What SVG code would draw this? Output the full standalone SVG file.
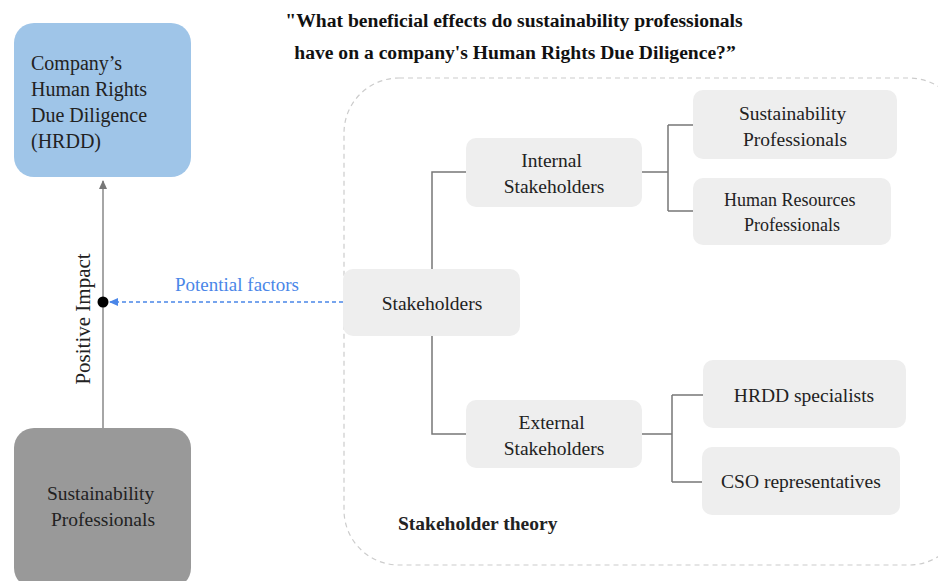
<svg xmlns="http://www.w3.org/2000/svg" width="938" height="581" viewBox="0 0 938 581">
  <style>
    .t { font-family: "Liberation Serif", "Times New Roman", serif; fill: #222; }
    .node { fill: #eeeeee; }
    .tree { fill: none; stroke: #777777; stroke-width: 1.5; }
    .title { font-family: "Liberation Serif", "Times New Roman", serif; font-weight: bold; font-size: 19.6px; fill: #111; }
  </style>
  <defs>
    <marker id="arrGray" markerWidth="10" markerHeight="10" refX="8" refY="5" orient="auto" markerUnits="userSpaceOnUse">
      <path d="M0,1 L9,5 L0,9 z" fill="#777777"/>
    </marker>
    <marker id="arrBlue" markerWidth="10" markerHeight="10" refX="8" refY="5" orient="auto" markerUnits="userSpaceOnUse">
      <path d="M0,1 L9,5 L0,9 z" fill="#4a86e8"/>
    </marker>
  </defs>
  <rect width="938" height="581" fill="#ffffff"/>

  <!-- question -->
  <g id="title">
    <text class="title" x="514" y="27" text-anchor="middle">"What beneficial effects do sustainability professionals</text>
    <text class="title" x="515" y="59" text-anchor="middle">have on a company's Human Rights Due Diligence?”</text>
  </g>

  <!-- stakeholder theory frame -->
  <g id="frame">
    <rect x="344" y="78" width="620" height="487" rx="55" fill="none" stroke="#cccccc" stroke-width="1.2" stroke-dasharray="5 4"/>
    <text class="t" x="398" y="530" font-size="19.5" font-weight="bold" fill="#111">Stakeholder theory</text>
  </g>

  <!-- connectors -->
  <g id="connectors">
    <path class="tree" d="M432,269 V172 H466"/>
    <path class="tree" d="M432,336 V434 H466"/>
    <path class="tree" d="M642,172 H668 M668,125 V211 M668,125 H693 M668,211 H693"/>
    <path class="tree" d="M642,434 H672 M672,395 V482 M672,395 H703 M672,482 H702"/>
    <line x1="103" y1="428" x2="103" y2="181" stroke="#888888" stroke-width="1.5" marker-end="url(#arrGray)"/>
    <line x1="343" y1="302" x2="110" y2="302" stroke="#4a86e8" stroke-width="1.5" stroke-dasharray="4 3" marker-end="url(#arrBlue)"/>
    <circle cx="103" cy="302" r="5.5" fill="#000000"/>
    <text x="237" y="291" text-anchor="middle" font-family="Liberation Serif, serif" font-size="19" fill="#4a86e8">Potential factors</text>
    <text class="t" transform="translate(90,319) rotate(-90)" text-anchor="middle" font-size="21">Positive Impact</text>
  </g>

  <g id="hrdd">
    <rect x="14" y="23" width="177" height="154" rx="20" fill="#9fc5e8"/>
    <text class="t" font-size="20" x="31">
      <tspan x="31" y="70">Company’s</tspan>
      <tspan x="31" y="96">Human Rights</tspan>
      <tspan x="31" y="122">Due Diligence</tspan>
      <tspan x="31" y="148">(HRDD)</tspan>
    </text>
  </g>

  <g id="sust-left">
    <rect x="14" y="428" width="177" height="160" rx="20" fill="#999999"/>
    <text class="t" font-size="19.5" text-anchor="middle">
      <tspan x="103" y="500">Sustainability</tspan>
      <tspan x="103" y="526">Professionals</tspan>
    </text>
  </g>

  <g id="stakeholders">
    <rect class="node" x="343" y="269" width="177" height="67" rx="10"/>
    <text class="t" font-size="19.5" x="432" y="310" text-anchor="middle">Stakeholders</text>
  </g>

  <g id="internal">
    <rect class="node" x="466" y="138" width="176" height="69" rx="10"/>
    <text class="t" font-size="19.5" text-anchor="middle">
      <tspan x="554" y="167">Internal</tspan>
      <tspan x="554" y="193">Stakeholders</tspan>
    </text>
  </g>

  <g id="external">
    <rect class="node" x="466" y="400" width="176" height="68" rx="10"/>
    <text class="t" font-size="19.5" text-anchor="middle">
      <tspan x="554" y="429">External</tspan>
      <tspan x="554" y="455">Stakeholders</tspan>
    </text>
  </g>

  <g id="sust-prof">
    <rect class="node" x="693" y="90" width="204" height="69" rx="10"/>
    <text class="t" font-size="19.5" text-anchor="middle">
      <tspan x="795" y="120">Sustainability</tspan>
      <tspan x="795" y="146">Professionals</tspan>
    </text>
  </g>

  <g id="hr-prof">
    <rect class="node" x="693" y="178" width="198" height="67" rx="10"/>
    <text class="t" font-size="18" text-anchor="middle">
      <tspan x="792" y="206">Human Resources</tspan>
      <tspan x="792" y="231">Professionals</tspan>
    </text>
  </g>

  <g id="hrdd-spec">
    <rect class="node" x="703" y="360" width="203" height="68" rx="10"/>
    <text class="t" font-size="19.5" x="804" y="402" text-anchor="middle">HRDD specialists</text>
  </g>

  <g id="cso">
    <rect class="node" x="702" y="447" width="198" height="68" rx="10"/>
    <text class="t" font-size="19.5" x="801" y="488" text-anchor="middle">CSO representatives</text>
  </g>
</svg>
